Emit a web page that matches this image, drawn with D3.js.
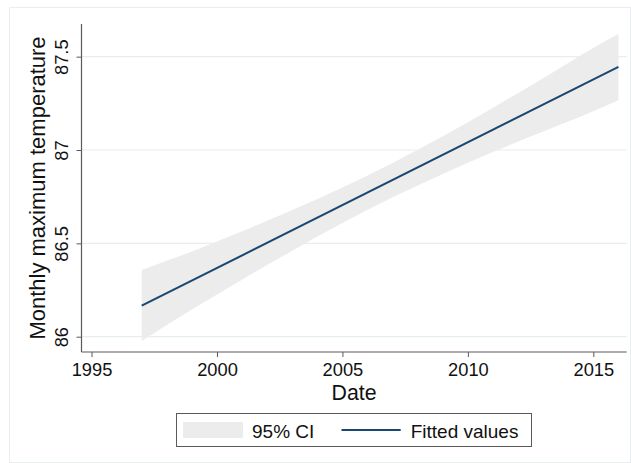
<!DOCTYPE html>
<html>
<head>
<meta charset="utf-8">
<script src="https://cdn.jsdelivr.net/npm/d3@7"></script>
<style>
  html, body { margin: 0; padding: 0; background: #fff; }
  svg { display: block; font-family: "Liberation Sans", Arial, Helvetica, sans-serif; }
</style>
</head>
<body>
<svg id="chart" width="631" height="463"></svg>
<script>
// Linear fit of monthly maximum temperature on date, with 95% confidence band
const bandYears = [1997, 1999, 2001, 2003, 2005, 2007, 2009, 2011, 2013, 2015, 2016];
const ciLower   = [85.977, 86.145, 86.305, 86.461, 86.609, 86.747, 86.872, 86.989, 87.099, 87.207, 87.266];
const ciUpper   = [86.357, 86.457, 86.565, 86.679, 86.799, 86.931, 87.074, 87.227, 87.385, 87.547, 87.621];
const fitYears  = [1997, 2016];
const fitValues = [86.166, 87.445];

const xTicks = [1995, 2000, 2005, 2010, 2015];
const yTicks = [86, 86.5, 87, 87.5];
const yTickLabels = ["86", "86.5", "87", "87.5"];

const legendLabels = ["95% CI", "Fitted values"];

const colors = { fit: "#1a476f", ci: "#ececec", grid: "#e6eef0", axis: "#5a5a5a", frame: "#e9eff1" };

const svg = d3.select("#chart");

const plot = { left: 81.5, right: 626.7, top: 24, bottom: 352 };

const x = d3.scaleLinear().domain([1994.6, 2016.33]).range([plot.left, plot.right]);
const y = d3.scaleLinear().domain([85.918, 87.675]).range([plot.bottom, plot.top]);

// outer frame
svg.append("rect")
  .attr("x", 9.5).attr("y", 7.5).attr("width", 621).attr("height", 455)
  .attr("fill", "#fff").attr("stroke", colors.frame).attr("stroke-width", 1);

// horizontal gridlines
svg.append("g").selectAll("line").data(yTicks).join("line")
  .attr("x1", plot.left).attr("x2", plot.right)
  .attr("y1", d => y(d)).attr("y2", d => y(d))
  .attr("stroke", colors.grid).attr("stroke-width", 1.2);

// confidence band
const band = bandYears.map((t, i) => ({ t, lo: ciLower[i], hi: ciUpper[i] }));
svg.append("path")
  .datum(band)
  .attr("fill", colors.ci)
  .attr("d", d3.area().x(d => x(d.t)).y0(d => y(d.lo)).y1(d => y(d.hi)).curve(d3.curveMonotoneX));

// fitted line
const fit = fitYears.map((t, i) => ({ t, v: fitValues[i] }));
svg.append("path")
  .datum(fit)
  .attr("fill", "none")
  .attr("stroke", colors.fit)
  .attr("stroke-width", 2)
  .attr("d", d3.line().x(d => x(d.t)).y(d => y(d.v)));

// x axis
const xAxis = svg.append("g")
  .attr("transform", `translate(0,${plot.bottom})`)
  .call(d3.axisBottom(x).tickValues(xTicks).tickFormat(d3.format("d")).tickSize(5).tickPadding(5));
xAxis.select(".domain").attr("stroke", colors.axis).attr("stroke-width", 1.2)
  .attr("d", `M${plot.left},0H${plot.right}`);
xAxis.selectAll(".tick line").attr("stroke", colors.axis);
xAxis.selectAll(".tick text")
  .attr("font-size", 18.3).attr("fill", "#111")
  .attr("font-family", "Liberation Sans, Arial, sans-serif")
  .attr("dy", null).attr("y", 24);

// y axis
const yAxis = svg.append("g")
  .attr("transform", `translate(${plot.left},0)`)
  .call(d3.axisLeft(y).tickValues(yTicks).tickFormat((d, i) => yTickLabels[i]).tickSize(5).tickPadding(0));
yAxis.select(".domain").attr("stroke", colors.axis).attr("stroke-width", 1.2)
  .attr("d", `M0,${plot.top}V${plot.bottom}`);
yAxis.selectAll(".tick line").attr("stroke", colors.axis);
yAxis.selectAll(".tick text")
  .attr("font-size", 18.3).attr("fill", "#111")
  .attr("font-family", "Liberation Sans, Arial, sans-serif")
  .attr("x", null).attr("dy", null)
  .attr("text-anchor", "middle")
  .attr("transform", "translate(-13.5,0) rotate(-90)");

// axis titles
svg.append("text")
  .attr("x", (plot.left + plot.right) / 2).attr("y", 400)
  .attr("text-anchor", "middle").attr("font-size", 21.3).attr("fill", "#111")
  .text("Date");

svg.append("text")
  .attr("transform", `translate(45,${(plot.top + plot.bottom) / 2}) rotate(-90)`)
  .attr("text-anchor", "middle").attr("font-size", 22).attr("fill", "#111")
  .text("Monthly maximum temperature");

// legend
const legend = svg.append("g");
legend.append("rect")
  .attr("x", 176.5).attr("y", 413.5).attr("width", 355).attr("height", 33)
  .attr("fill", "#fff").attr("stroke", colors.axis).attr("stroke-width", 1);
legend.append("rect")
  .attr("x", 183).attr("y", 422).attr("width", 60).attr("height", 16)
  .attr("fill", colors.ci);
legend.append("text")
  .attr("x", 252).attr("y", 437.5).attr("font-size", 19).attr("fill", "#111")
  .text(legendLabels[0]);
legend.append("line")
  .attr("x1", 341.5).attr("x2", 400.7).attr("y1", 430).attr("y2", 430)
  .attr("stroke", colors.fit).attr("stroke-width", 2);
legend.append("text")
  .attr("x", 410.7).attr("y", 437.5).attr("font-size", 19).attr("fill", "#111")
  .text(legendLabels[1]);
</script>
</body>
</html>
